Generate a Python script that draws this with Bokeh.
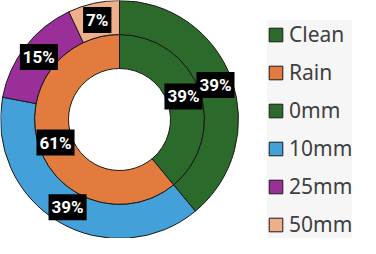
import math
from bokeh.plotting import figure
from bokeh.models import ColumnDataSource, Range1d, Legend, LegendItem
from bokeh.core.properties import value
from bokeh.embed import file_html
from bokeh.resources import INLINE

inner_labels = ["Clean", "Rain"]
inner_values = [39, 61]
inner_colors = ["#2c6a2c", "#e27b3d"]

outer_labels = ["0mm", "10mm", "25mm", "50mm"]
outer_values = [39, 39, 15, 7]
outer_colors = ["#2c6a2c", "#44a0d9", "#9a2f9a", "#f0ae8a"]

W, H = 360, 238
cx, cy = 119, 119
R_out, R_mid, R_in = 119, 85, 51


def ring(values, colors, r0, r1):
    total = float(sum(values))
    starts, ends, lx, ly, txt = [], [], [], [], []
    acc = 0.0
    rm = (r0 + r1) / 2.0
    for v in values:
        a0 = math.pi / 2 - acc / total * 2 * math.pi
        acc += v
        a1 = math.pi / 2 - acc / total * 2 * math.pi
        starts.append(a0)
        ends.append(a1)
        am = (a0 + a1) / 2
        lx.append(cx + rm * math.cos(am))
        ly.append(cy + rm * math.sin(am))
        txt.append(f"{v}%")
    return ColumnDataSource(dict(start=starts, end=ends, color=colors,
                                 lx=lx, ly=ly, txt=txt))


p = figure(width=W, height=H, output_backend="svg", toolbar_location=None,
           x_range=Range1d(0, W), y_range=Range1d(0, H), min_border=0)
p.axis.visible = False
p.grid.visible = False
p.outline_line_color = None
p.background_fill_color = "white"

src_in = ring(inner_values, inner_colors, R_in, R_mid)
src_out = ring(outer_values, outer_colors, R_mid, R_out)

r_in = p.annular_wedge(x=cx, y=cy, inner_radius=R_in, outer_radius=R_mid,
                       start_angle="start", end_angle="end", direction="clock",
                       fill_color="color", line_color="#1a1a1a", line_width=1,
                       source=src_in)
r_out = p.annular_wedge(x=cx, y=cy, inner_radius=R_mid, outer_radius=R_out,
                        start_angle="start", end_angle="end", direction="clock",
                        fill_color="color", line_color="#1a1a1a", line_width=1,
                        source=src_out)

for src in (src_in, src_out):
    p.text(x="lx", y="ly", text="txt", source=src,
           text_font=value("Roboto"), text_font_style="bold",
           text_font_size="17px", text_color="white",
           text_align="center", text_baseline="middle",
           background_fill_color="black", padding=3)

items = []
for i, lab in enumerate(inner_labels):
    items.append(LegendItem(label=lab, renderers=[r_in], index=i))
for i, lab in enumerate(outer_labels):
    items.append(LegendItem(label=lab, renderers=[r_out], index=i))

legend = Legend(items=items, location=(267, 0), orientation="vertical",
                glyph_width=17, glyph_height=17, label_height=24,
                spacing=10, padding=4, margin=0, label_standoff=5,
                label_text_font="Noto Sans", label_text_font_size="21px",
                label_text_color="#404040",
                background_fill_color="#f6f6f6", background_fill_alpha=1,
                border_line_color=None)
p.add_layout(legend)

open("out.html", "w").write(file_html(p, INLINE))
